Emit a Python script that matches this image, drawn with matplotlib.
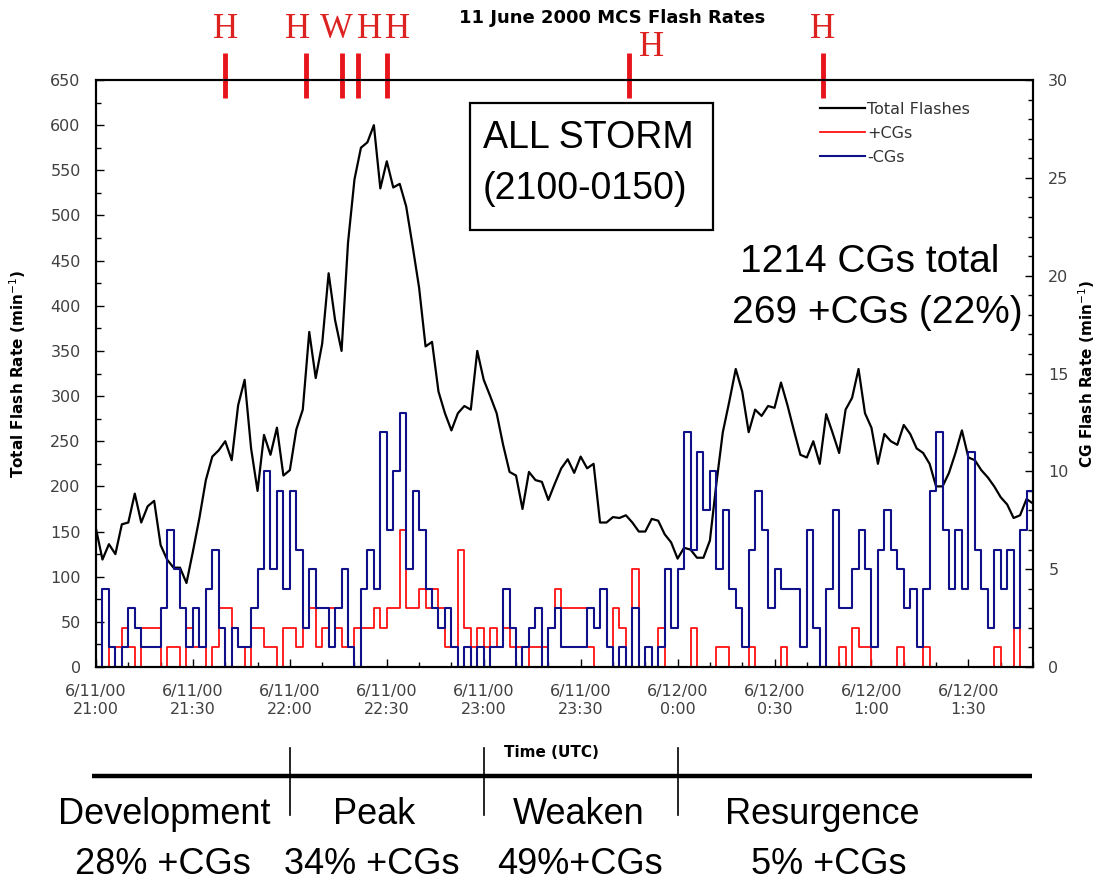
import matplotlib.pyplot as plt
from matplotlib.patches import Rectangle
from matplotlib.lines import Line2D
from matplotlib.ticker import MultipleLocator

# time axis: minutes after 21:00 UTC on 6/11/00, 2-minute bins
minutes = list(range(0, 291, 2))

# total flash rate (per minute), left axis
total_flashes = [153, 119, 136, 125, 158, 160, 192, 160, 178, 184,
                 135, 119, 110, 110, 93, 128, 165, 207, 233, 240,
                 250, 229, 290, 318, 242, 195, 257, 235, 265, 212,
                 218, 263, 285, 371, 320, 358, 436, 384, 350, 470,
                 540, 575, 581, 600, 530, 560, 531, 535, 510, 466,
                 420, 355, 360, 305, 281, 262, 281, 289, 285, 350,
                 318, 300, 281, 246, 216, 212, 175, 216, 207, 205,
                 185, 203, 220, 230, 215, 233, 220, 225, 160, 160,
                 166, 165, 168, 160, 150, 150, 164, 162, 147, 138,
                 120, 132, 130, 121, 121, 140, 203, 260, 294, 330,
                 305, 260, 285, 278, 289, 287, 315, 290, 262, 235,
                 232, 250, 225, 280, 259, 237, 285, 298, 330, 281,
                 265, 225, 258, 250, 246, 268, 258, 242, 237, 225,
                 200, 200, 215, 237, 262, 232, 229, 218, 210, 200,
                 188, 180, 165, 168, 186, 181]

# positive CG rate (per minute), right axis
pos_cg = [0, 0, 1, 1, 2, 1, 0, 2, 2, 2,
          0, 1, 1, 0, 2, 1, 1, 0, 1, 3,
          3, 2, 1, 0, 2, 2, 1, 1, 0, 2,
          2, 1, 2, 3, 1, 2, 3, 2, 1, 1,
          2, 2, 2, 3, 2, 3, 3, 7, 3, 3,
          4, 3, 4, 3, 1, 1, 6, 2, 1, 2,
          1, 2, 1, 2, 1, 1, 0, 1, 1, 1,
          2, 4, 3, 3, 3, 3, 1, 0, 0, 0,
          3, 2, 0, 5, 0, 0, 0, 2, 0, 0,
          0, 0, 2, 0, 0, 0, 1, 1, 0, 0,
          0, 1, 0, 0, 0, 0, 1, 0, 0, 0,
          0, 0, 0, 0, 0, 1, 0, 2, 1, 1,
          0, 0, 0, 0, 1, 0, 0, 0, 1, 0,
          0, 0, 0, 0, 0, 0, 0, 0, 0, 1,
          0, 0, 2, 0, 0, 0]

# negative CG rate (per minute), right axis
neg_cg = [0, 4, 1, 0, 1, 3, 2, 1, 1, 1,
          3, 7, 5, 3, 1, 3, 1, 4, 6, 2,
          0, 2, 1, 1, 3, 5, 10, 5, 9, 4,
          9, 6, 2, 5, 3, 3, 1, 3, 5, 1,
          0, 4, 6, 4, 12, 7, 10, 13, 5, 9,
          7, 4, 3, 2, 3, 1, 0, 1, 0, 1,
          0, 1, 1, 4, 2, 0, 1, 2, 3, 0,
          2, 3, 1, 1, 1, 1, 3, 2, 4, 1,
          0, 1, 0, 3, 0, 1, 0, 1, 5, 2,
          5, 12, 6, 11, 8, 10, 5, 8, 4, 3,
          1, 6, 9, 7, 3, 5, 4, 4, 4, 1,
          7, 2, 0, 4, 8, 3, 3, 5, 7, 5,
          1, 6, 8, 6, 5, 3, 4, 1, 4, 9,
          12, 7, 4, 7, 4, 11, 6, 4, 2, 6,
          4, 6, 2, 7, 9, 10]

tick_minutes = [0, 30, 60, 90, 120, 150, 180, 210, 240, 270]
tick_labels = ['6/11/00\n21:00', '6/11/00\n21:30', '6/11/00\n22:00',
               '6/11/00\n22:30', '6/11/00\n23:00', '6/11/00\n23:30',
               '6/12/00\n0:00', '6/12/00\n0:30', '6/12/00\n1:00',
               '6/12/00\n1:30']

# hail / wind reports
report_minutes = [40, 65, 76, 81, 90, 165, 225]
report_types = ['H', 'H', 'W', 'H', 'H', 'H', 'H']

# storm phases
phase_bounds = [60, 120, 180]
phase_names = ['Development', 'Peak', 'Weaken', 'Resurgence']
phase_pct = ['28% +CGs', '34% +CGs', '49%+CGs', '5% +CGs']

W, H = 1096, 883
fig = plt.figure(figsize=(W / 100, H / 100), dpi=100)
ax = fig.add_axes([96 / W, 1 - 667 / H, 937 / W, 587 / H])
ax2 = ax.twinx()

def fpos(x, y):
    return x / W, 1 - y / H

big = dict(family='Liberation Sans', fontsize=26, color='black')

# lines
ax.plot(minutes, total_flashes, color='black', lw=1.6, label='Total Flashes')
ax2.step(minutes, pos_cg, where='post', color='#ff1010', lw=1.3, label='+CGs')
ax2.step(minutes, neg_cg, where='post', color='#10108a', lw=1.5, label='-CGs')

ax.set_xlim(0, 290)
ax.set_ylim(0, 650)
ax2.set_ylim(0, 30)

ax.yaxis.set_major_locator(MultipleLocator(50))
ax.yaxis.set_minor_locator(MultipleLocator(25))
ax2.yaxis.set_major_locator(MultipleLocator(5))
ax2.yaxis.set_minor_locator(MultipleLocator(1))
ax.set_xticks(tick_minutes)
ax.set_xticklabels(tick_labels, linespacing=1.3)
ax.xaxis.set_minor_locator(MultipleLocator(10))

for a in (ax, ax2):
    a.tick_params(which='both', direction='in', color='black', width=1)
    a.tick_params(which='major', length=6)
    a.tick_params(which='minor', length=3.5)
    for s in a.spines.values():
        s.set_linewidth(1.5)
ax.tick_params(axis='both', which='both', labelcolor='#404040', labelsize=11.5, pad=11)
ax.tick_params(axis='x', which='both', pad=12)
ax2.tick_params(axis='y', which='both', labelcolor='#404040', labelsize=11.5, pad=11)
for lab in ax.get_xticklabels() + ax.get_yticklabels() + ax2.get_yticklabels():
    lab.set_family('DejaVu Sans')

ax.set_ylabel('Total Flash Rate (min$^{-1}$)', fontsize=11, fontweight='bold')
ax.yaxis.set_label_coords(-0.0726, 0.5)
ax2.set_ylabel('CG Flash Rate (min$^{-1}$)', fontsize=11, fontweight='bold')
ax2.yaxis.set_label_coords(1.046, 0.5)
ax.set_xlabel('Time (UTC)', fontsize=11, fontweight='bold')
ax.xaxis.set_label_coords(0.4856, -0.133)

fig.text(*fpos(612, 18), '11 June 2000 MCS Flash Rates', ha='center', va='center',
         fontsize=13, fontweight='bold', family='DejaVu Sans')

# legend
handles = [Line2D([], [], color='black', lw=1.6),
           Line2D([], [], color='#ff1010', lw=1.3),
           Line2D([], [], color='#10108a', lw=1.5)]
leg = ax2.legend(handles, ['Total Flashes', '+CGs', '-CGs'], loc='upper left',
                 bbox_to_anchor=fpos(820, 102), bbox_transform=fig.transFigure,
                 frameon=False, fontsize=11.5, handlelength=2.8, handletextpad=0.15,
                 labelspacing=0.55, borderpad=0, borderaxespad=0)
for t in leg.get_texts():
    t.set_color('#333333')

# hail / wind report markers above the plot
xt = ax.get_xaxis_transform()
label_offsets = [(0, 50), (-8, 50), (-5, 50), (12, 50), (11, 50), (22, 32), (0, 50)]
for m, kind, off in zip(report_minutes, report_types, label_offsets):
    ax.plot([m, m], [0.969, 1.046], transform=xt, clip_on=False,
            color='#e8141c', lw=3.5, solid_capstyle='butt', zorder=5)
    ax.annotate(kind, xy=(m, 1.0), xycoords=xt, xytext=off, textcoords='offset pixels',
                ha='center', va='center', family='Liberation Serif', fontsize=25,
                color='#dd2222', annotation_clip=False)

# ALL STORM box
x0, y0 = fpos(470, 230)
x1, y1 = fpos(713, 103)
fig.add_artist(Rectangle((x0, y0), x1 - x0, y1 - y0, transform=fig.transFigure,
                         fc='white', ec='black', lw=1.6, zorder=6))
fig.text(*fpos(483, 138), 'ALL STORM', ha='left', va='center', zorder=7,
         **dict(big, fontsize=27))
fig.text(*fpos(483, 189), '(2100-0150)', ha='left', va='center', zorder=7,
         **dict(big, fontsize=27))

fig.text(*fpos(870, 262), '1214 CGs total', ha='center', va='center', **dict(big, fontsize=28))
fig.text(*fpos(877, 313), '269 +CGs (22%)', ha='center', va='center', **dict(big, fontsize=28))

# phase bar under the time axis
ax.plot([-0.004, 0.999], [-0.1857, -0.1857], transform=ax.transAxes, clip_on=False,
        color='black', lw=3.2, solid_capstyle='butt')
for b in phase_bounds:
    ax.plot([b, b], [-0.138, -0.252], transform=xt, clip_on=False,
            color='black', lw=1.2)

name_x = [164, 374, 579, 822]
pct_x = [163, 372, 580, 829]
for name, nx, pct, px in zip(phase_names, name_x, phase_pct, pct_x):
    fig.text(*fpos(nx, 815), name, ha='center', va='center', **big)
    fig.text(*fpos(px, 864), pct, ha='center', va='center', **big)

fig.savefig('out.png', dpi=100, facecolor='white')
